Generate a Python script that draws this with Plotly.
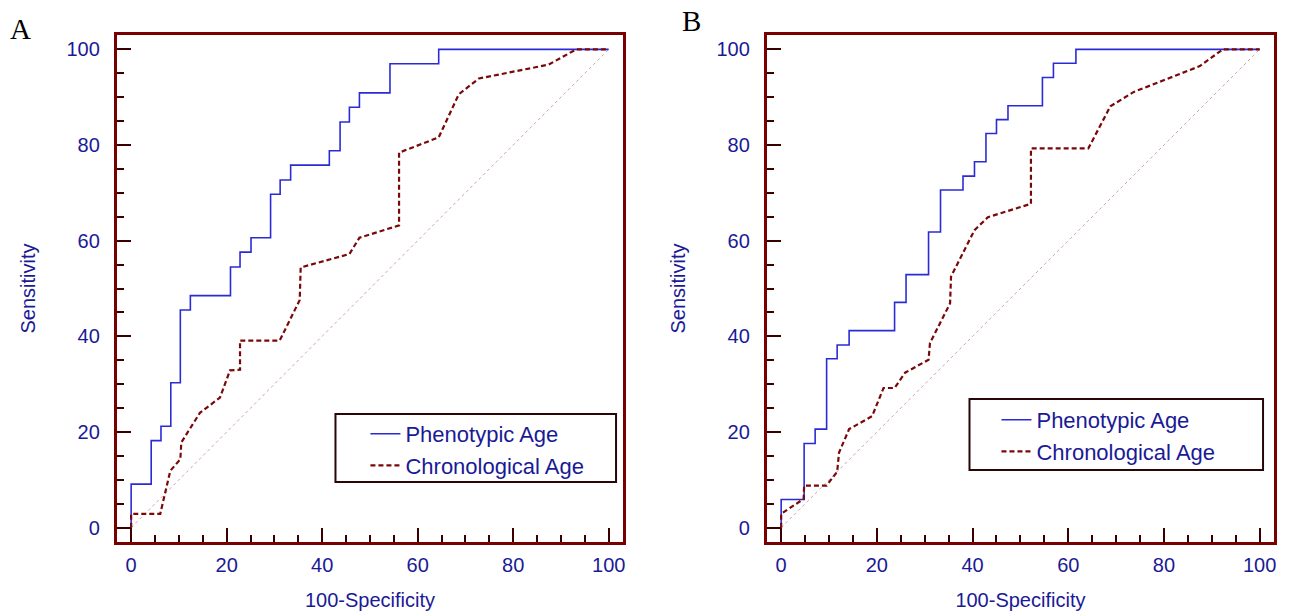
import plotly.graph_objects as go

# ---------------- data ----------------
# Panel A
a_pheno_x = [0, 0, 4.2, 6.25, 8.3, 10.3, 12.4, 20.8, 22.8, 25.1, 29.2, 31.2, 33.4, 41.5, 43.75, 45.7, 47.8, 54.2, 64.4, 100]
a_pheno_y = [0, 9.1, 18.2, 21.2, 30.3, 45.5, 48.5, 54.5, 57.6, 60.6, 69.7, 72.7, 75.8, 78.8, 84.8, 87.9, 90.9, 97.0, 100, 100]
a_chrono_x = [0, 0, 6.1, 8.2, 10.3, 10.5, 12.0, 14.4, 18.6, 20.7, 22.8, 22.8, 31.1, 35.3, 35.5, 45.7, 47.8, 56.1, 56.1, 64.4, 68.6, 72.8, 87.4, 93.2, 100]
a_chrono_y = [0, 2.9, 2.9, 11.9, 14.3, 17.8, 20.2, 24.0, 27.2, 32.9, 33.0, 39.1, 39.1, 47.6, 54.4, 57.2, 60.6, 63.2, 78.4, 81.6, 90.6, 93.9, 96.8, 100, 100]
# Panel B
b_pheno_x = [0, 0, 4.8, 7.1, 9.5, 11.7, 14.2, 23.7, 26.1, 30.8, 33.3, 38.0, 40.4, 42.8, 45.0, 47.4, 54.6, 56.9, 61.6, 100]
b_pheno_y = [0, 5.9, 17.6, 20.6, 35.3, 38.2, 41.2, 47.1, 52.9, 61.8, 70.6, 73.5, 76.5, 82.4, 85.3, 88.2, 94.1, 97.1, 100, 100]
b_chrono_x = [0, 0, 4.7, 4.8, 9.5, 11.7, 12.1, 14.2, 19.0, 21.4, 23.7, 25.9, 30.8, 31.1, 35.3, 35.5, 40.4, 43.2, 52.2, 52.2, 64.2, 68.8, 73.7, 87.5, 92.3, 100]
b_chrono_y = [0, 2.9, 6.0, 8.8, 8.8, 11.7, 15.7, 20.6, 23.3, 29.2, 29.2, 32.4, 35.1, 38.6, 46.9, 52.5, 62.2, 64.9, 67.7, 79.3, 79.3, 88.1, 91.1, 96.5, 100, 100]
ref_x = [0, 100]
ref_y = [0, 100]

series_names = ["Phenotypic Age", "Chronological Age"]
tick_vals = [0, 20, 40, 60, 80, 100]
x_title = "100-Specificity"
y_title = "Sensitivity"
panel_labels = ["A", "B"]

# ---------------- styling ----------------
W, H = 1291, 614
BLUE = "#2b2bd6"
RED = "#7a0808"
TXT = "#1a1a96"
FRAME = "#780000"
TICKC = "#3a0000"

fig = go.Figure()

panels = [
    ("x", "y", "legend", a_pheno_x, a_pheno_y, a_chrono_x, a_chrono_y),
    ("x2", "y2", "legend2", b_pheno_x, b_pheno_y, b_chrono_x, b_chrono_y),
]
for xa, ya, lg, px_, py_, cx_, cy_ in panels:
    fig.add_trace(go.Scatter(x=ref_x, y=ref_y, xaxis=xa, yaxis=ya, mode="lines",
                             line=dict(color="#c9a7a7", width=1, dash="dot"),
                             showlegend=False, hoverinfo="skip"))
    fig.add_trace(go.Scatter(x=px_, y=py_, xaxis=xa, yaxis=ya, mode="lines",
                             line=dict(color=BLUE, width=1.6, shape="hv"),
                             name=series_names[0], legend=lg))
    fig.add_trace(go.Scatter(x=cx_, y=cy_, xaxis=xa, yaxis=ya, mode="lines",
                             line=dict(color=RED, width=2.2, dash="5px,3px"),
                             name=series_names[1], legend=lg))

def axis_common():
    return dict(
        range=[-3, 103], tickvals=tick_vals, ticks="inside", ticklen=14, tickwidth=2,
        tickcolor=TICKC, showline=True, linecolor=FRAME, linewidth=3, mirror=True,
        showgrid=False, zeroline=False,
        tickfont=dict(family="Liberation Sans, Arial", size=20, color=TXT),
        minor=dict(ticks="inside", dtick=5, ticklen=7, tickwidth=2, tickcolor=TICKC, showgrid=False),
    )

ydom = [(H - 542) / H, (H - 35) / H]
xdomA = [117 / W, 624 / W]
xdomB = [768 / W, 1276 / W]

title_font = dict(family="Liberation Sans, Arial", size=20, color=TXT)

fig.update_layout(
    width=W, height=H, margin=dict(l=0, r=0, t=0, b=0),
    paper_bgcolor="white", plot_bgcolor="white",
    xaxis=dict(domain=xdomA, anchor="y", title=dict(text=x_title, font=title_font, standoff=18),
               ticklabelstandoff=3, **axis_common()),
    yaxis=dict(domain=ydom, anchor="x", title=dict(text=y_title, font=title_font, standoff=26),
               ticklabelstandoff=10, **axis_common()),
    xaxis2=dict(domain=xdomB, anchor="y2", title=dict(text=x_title, font=title_font, standoff=18),
                ticklabelstandoff=3, **axis_common()),
    yaxis2=dict(domain=ydom, anchor="x2", title=dict(text=y_title, font=title_font, standoff=26),
                ticklabelstandoff=10, **axis_common()),
    legend=dict(x=366 / W, y=1 - 413 / H, xanchor="left", yanchor="top",
                bgcolor="rgba(0,0,0,0)", borderwidth=0,
                font=dict(family="Liberation Sans, Arial", size=22, color=TXT), tracegroupgap=0),
    legend2=dict(x=998 / W, y=1 - 399 / H, xanchor="left", yanchor="top",
                 bgcolor="rgba(0,0,0,0)", borderwidth=0,
                 font=dict(family="Liberation Sans, Arial", size=22, color=TXT), tracegroupgap=0),
    shapes=[
        dict(type="rect", xref="paper", yref="paper", x0=336 / W, x1=617 / W,
             y0=1 - 482 / H, y1=1 - 414 / H, line=dict(color="#2a0505", width=2),
             fillcolor="white", layer="above"),
        dict(type="rect", xref="paper", yref="paper", x0=971 / W, x1=1265 / W,
             y0=1 - 470 / H, y1=1 - 399 / H, line=dict(color="#2a0505", width=2),
             fillcolor="white", layer="above"),
    ],
    annotations=[
        dict(text=panel_labels[0], x=21 / W, y=1 - 29 / H, xref="paper", yref="paper",
             showarrow=False, xanchor="center", yanchor="middle",
             font=dict(family="Liberation Serif, Times New Roman", size=29, color="black")),
        dict(text=panel_labels[1], x=693 / W, y=1 - 21 / H, xref="paper", yref="paper",
             showarrow=False, xanchor="center", yanchor="middle",
             font=dict(family="Liberation Serif, Times New Roman", size=29, color="black")),
    ],
)

fig.write_html("out.html", config={"displayModeBar": False},
               post_script="document.body.style.margin='0px';document.body.style.overflow='hidden';")
